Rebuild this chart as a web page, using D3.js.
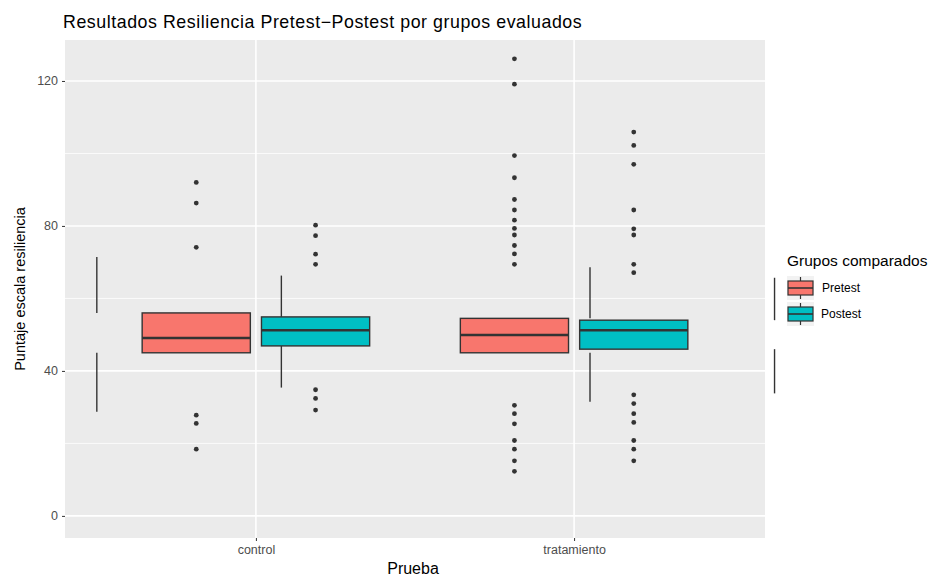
<!DOCTYPE html>
<html>
<head>
<meta charset="utf-8">
<script src="https://cdn.jsdelivr.net/npm/d3@7"></script>
<style>
  body { margin: 0; background: #ffffff; }
  text { font-family: "Liberation Sans", Arial, sans-serif; }
</style>
</head>
<body>
<div id="chart"></div>
<script>
// groups on the x axis, and the two series (fill)
const groups = ["control", "tratamiento"];
const series = ["Pretest", "Postest"];
const seriesColors = ["#F8766D", "#00BFC4"];

// box stats, order: control-Pretest, control-Postest, tratamiento-Pretest, tratamiento-Postest
const q1 = [45.0, 46.9, 45.0, 46.0];
const median = [49.1, 51.2, 49.9, 51.2];
const q3 = [56.0, 54.9, 54.5, 54.0];
const whiskerLow = [28.7, 35.4, 31.5, 33.8];
const whiskerHigh = [71.4, 66.3, 68.6, 65.7];
// whiskers were drawn at shifted x positions (in x-axis units)
const whiskerX = [0.50, 1.08, 2.05, 2.63];

const outliers = [
    [92, 86.3, 74.1, 27.8, 25.5, 18.4],
    [80.2, 77.3, 72.2, 69.4, 34.8, 32.4, 29.2],
    [126.1, 119.1, 99.4, 93.3, 87.3, 84.4, 81.6, 79.3, 77.5, 74.6, 72.3, 69.4, 30.5, 28.2, 25.4, 20.8, 18.4, 15.2, 12.3],
    [105.9, 102.2, 97.0, 84.4, 79.2, 77.5, 69.4, 67.1, 33.4, 31.0, 28.2, 25.8, 20.8, 18.4, 15.2]
];

const yTicks = [0, 40, 80, 120];
const yMinor = [20, 60, 100];

const WIDTH = 933, HEIGHT = 578;
const PANEL = {left: 65, right: 765, top: 40, bottom: 538};
const DODGE = 0.1875, BOX_W = 0.34;

const svg = d3.select("#chart").append("svg")
    .attr("width", WIDTH).attr("height", HEIGHT);

const x = d3.scaleLinear().domain([0.4, 2.6]).range([PANEL.left, PANEL.right]);
const y = d3.scaleLinear().domain([-6.1, 131.3]).range([PANEL.bottom, PANEL.top]);

// panel
svg.append("rect")
    .attr("x", PANEL.left).attr("y", PANEL.top)
    .attr("width", PANEL.right - PANEL.left).attr("height", PANEL.bottom - PANEL.top)
    .attr("fill", "#ebebeb");

const grid = svg.append("g");
yMinor.forEach(v => {
    grid.append("line").attr("x1", PANEL.left).attr("x2", PANEL.right)
        .attr("y1", y(v)).attr("y2", y(v))
        .attr("stroke", "#ffffff").attr("stroke-width", 0.8);
});
yTicks.forEach(v => {
    grid.append("line").attr("x1", PANEL.left).attr("x2", PANEL.right)
        .attr("y1", y(v)).attr("y2", y(v))
        .attr("stroke", "#ffffff").attr("stroke-width", 1.6);
});
groups.forEach((g, i) => {
    grid.append("line").attr("x1", x(i + 1)).attr("x2", x(i + 1))
        .attr("y1", PANEL.top).attr("y2", PANEL.bottom)
        .attr("stroke", "#ffffff").attr("stroke-width", 1.6);
});

// axes
const yAxis = d3.axisLeft(y).tickValues(yTicks).tickSize(3).tickPadding(4);
const yG = svg.append("g").attr("transform", `translate(${PANEL.left},0)`).call(yAxis);
const xAxis = d3.axisBottom(x).tickValues([1, 2]).tickFormat((d, i) => groups[i]).tickSize(3).tickPadding(4);
const xG = svg.append("g").attr("transform", `translate(0,${PANEL.bottom})`).call(xAxis);
[yG, xG].forEach(g => {
    g.select(".domain").remove();
    g.selectAll(".tick line").attr("stroke", "#333333");
    g.selectAll(".tick text").attr("fill", "#4d4d4d").style("font-size", "12.5px")
        .style("font-family", "Liberation Sans, Arial, sans-serif");
});

// boxes
const marks = svg.append("g");
groups.forEach((g, gi) => {
    series.forEach((s, si) => {
        const k = gi * 2 + si;
        const cx = gi + 1 + (si === 0 ? -DODGE : DODGE);

        // whiskers
        marks.append("line").attr("x1", x(whiskerX[k])).attr("x2", x(whiskerX[k]))
            .attr("y1", y(q3[k])).attr("y2", y(whiskerHigh[k]))
            .attr("stroke", "#333333").attr("stroke-width", 1.4);
        marks.append("line").attr("x1", x(whiskerX[k])).attr("x2", x(whiskerX[k]))
            .attr("y1", y(q1[k])).attr("y2", y(whiskerLow[k]))
            .attr("stroke", "#333333").attr("stroke-width", 1.4);

        marks.append("rect")
            .attr("x", x(cx - BOX_W / 2)).attr("y", y(q3[k]))
            .attr("width", x(cx + BOX_W / 2) - x(cx - BOX_W / 2))
            .attr("height", y(q1[k]) - y(q3[k]))
            .attr("fill", seriesColors[si]).attr("stroke", "#333333").attr("stroke-width", 1.4);
        marks.append("line")
            .attr("x1", x(cx - BOX_W / 2)).attr("x2", x(cx + BOX_W / 2))
            .attr("y1", y(median[k])).attr("y2", y(median[k]))
            .attr("stroke", "#333333").attr("stroke-width", 2.4);

        outliers[k].forEach(v => {
            marks.append("circle").attr("cx", x(cx)).attr("cy", y(v)).attr("r", 2.4)
                .attr("fill", "#333333");
        });
    });
});

// titles
svg.append("text").attr("x", PANEL.left - 2).attr("y", 28)
    .style("font-size", "17.8px").style("letter-spacing", "0.55px").attr("fill", "#000000")
    .text("Resultados Resiliencia Pretest\u2212Postest por grupos evaluados");
svg.append("text").attr("x", 413).attr("y", 574)
    .attr("text-anchor", "middle").style("font-size", "16px").attr("fill", "#000000")
    .text("Prueba");
svg.append("text")
    .attr("transform", `translate(25,${(PANEL.top + PANEL.bottom) / 2}) rotate(-90)`)
    .attr("text-anchor", "middle").style("font-size", "14.5px").attr("fill", "#000000")
    .text("Puntaje escala resiliencia");

// legend
const legend = svg.append("g").attr("transform", "translate(787,0)");
legend.append("text").attr("x", 0).attr("y", 266).style("font-size", "15.5px").attr("fill", "#000000")
    .text("Grupos comparados");
series.forEach((s, si) => {
    const ky = 276 + si * 26;
    const kg = legend.append("g").attr("transform", `translate(0,${ky})`);
    kg.append("rect").attr("x", 0).attr("y", 0).attr("width", 27).attr("height", 24).attr("fill", "#f2f2f2");
    kg.append("line").attr("x1", 13.5).attr("x2", 13.5).attr("y1", 1).attr("y2", 23)
        .attr("stroke", "#333333").attr("stroke-width", 1.2);
    kg.append("rect").attr("x", 1).attr("y", 5).attr("width", 25).attr("height", 14)
        .attr("fill", seriesColors[si]).attr("stroke", "#333333").attr("stroke-width", 1.2);
    kg.append("line").attr("x1", 1).attr("x2", 26).attr("y1", 12).attr("y2", 12)
        .attr("stroke", "#333333").attr("stroke-width", 1.6);
    legend.append("text").attr("x", si === 0 ? 35 : 34).attr("y", ky + 16)
        .style("font-size", "12px").attr("fill", "#000000").text(s);
});
</script>
</body>
</html>
